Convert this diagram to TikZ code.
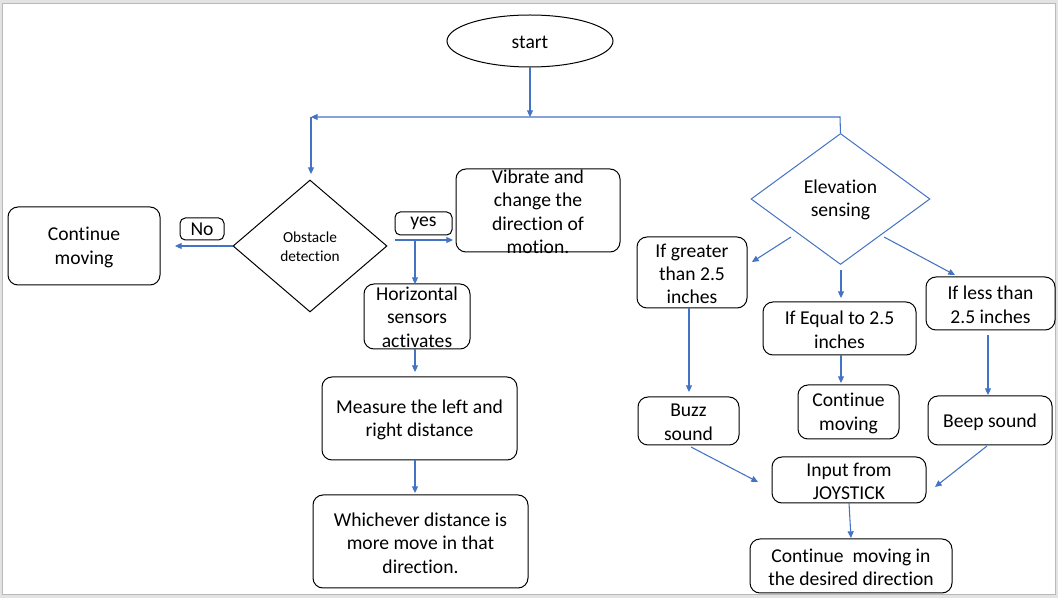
\documentclass[tikz,border=0pt]{standalone}
\usepackage{fontspec}
\setmainfont[Ligatures=NoCommon]{Carlito}
\usetikzlibrary{fit,arrows.meta,shapes.geometric}
\definecolor{arrowblue}{HTML}{4472C4}
\begin{document}
\begin{tikzpicture}[x=0.75pt,y=-0.75pt,
 box/.style={draw=black, rounded corners=7.5pt, line width=0.75pt, inner sep=0pt},
 tbox/.style={draw=black, rounded corners=4pt, line width=0.75pt, inner sep=0pt},
 txt/.style={align=center, font=\fontsize{14.7}{17.6}\selectfont, inner sep=0pt},
 stxt/.style={align=center, font=\fontsize{11.5}{14.3}\selectfont, inner sep=0pt},
 arr/.style={draw=arrowblue, line width=0.8pt, -{Triangle[length=5pt,width=4.5pt]}},
 ln/.style={draw=arrowblue, line width=0.8pt}]
% canvas
\fill[gray!22] (0,0) rectangle (1058,598);
\useasboundingbox (0,0) rectangle (1058,598);
\filldraw[fill=white, draw=gray!55, line width=0.6pt] (2.5,3.5) rectangle (1055.5,594.5);

% start
\node[ellipse, draw=black, line width=0.75pt, minimum width=124.5pt, minimum height=39pt, inner sep=0pt] (start) at (530,41) {};
\node[txt] at (530,42) {start};

% obstacle diamond
\node[diamond, draw=black, line width=0.75pt, minimum width=115.5pt, minimum height=99pt, inner sep=0pt] (od) at (310,246) {};
\node[stxt] at (310,247) {Obstacle\\detection};

% elevation diamond
\node[diamond, draw=arrowblue, line width=0.75pt, minimum width=134.25pt, minimum height=98.25pt, inner sep=0pt] (ed) at (840.5,199) {};
\node[txt] at (840.5,200) {Elevation\\sensing};

% left boxes
\node[box, fit={(8,207) (160,285)}] (cm1) {};
\node[txt] at ([yshift=-1pt]cm1.center) {Continue\\moving};
\node[tbox, fit={(180,218) (224,240)}] (no) {};
\node[txt] at (no) {No};
\node[tbox, fit={(395,212) (452,235)}] (yes) {};
\node[txt] at (yes) {yes};
\node[box, fit={(456,169) (620,252)}] (vib) {};
\node[txt] at (538,212) {Vibrate and\\change the\\direction of\\motion.};
\node[box, fit={(364,284) (470,349)}] (hs) {};
\node[txt] at (417,317) {Horizontal\\sensors\\activates};
\node[box, fit={(322,377) (517,460)}] (mlr) {};
\node[txt] at ([yshift=-1pt]mlr.center) {Measure the left and\\right distance};
\node[box, fit={(313,495) (528,588)}] (wd) {};
\node[txt] at ([yshift=-1pt]wd.center) {Whichever distance is\\more move in that\\direction.};

% right boxes
\node[box, fit={(637,237) (747,308)}] (gt) {};
\node[txt] at ([yshift=-1pt]gt.center) {If greater\\than 2.5\\inches};
\node[box, fit={(763,302) (916,355)}] (eq) {};
\node[txt] at ([yshift=-1pt]eq.center) {If Equal to 2.5\\inches};
\node[box, fit={(926,277) (1055,330)}] (lt) {};
\node[txt] at ([yshift=-1pt]lt.center) {If less than\\2.5 inches};
\node[box, fit={(638,397) (739,445)}] (buzz) {};
\node[txt] at ([yshift=-1pt]buzz.center) {Buzz\\sound};
\node[box, fit={(798,385) (899,439)}] (cm2) {};
\node[txt] at ([yshift=-1pt]cm2.center) {Continue\\moving};
\node[box, fit={(928,396) (1052,445)}] (beep) {};
\node[txt] at ([yshift=-1pt]beep.center) {Beep sound};
\node[box, fit={(772,457) (926,503)}] (joy) {};
\node[txt] at ([yshift=-1pt]joy.center) {Input from\\JOYSTICK};
\node[box, fit={(750,539) (952,593)}] (cmd) {};
\node[txt] at ([yshift=-1pt]cmd.center) {Continue\ \ moving in\\the desired direction};

% connector coordinates
\coordinate (j1) at (530,117);
\coordinate (jl) at (311,117);
\coordinate (jr) at (840,117);
\coordinate (odtop) at (311,174);
\coordinate (noend) at (175,246);
\coordinate (ys) at (395,240);
\coordinate (ye) at (453,240);
\coordinate (yv) at (415,240);
\coordinate (hstop) at (415,284);
\coordinate (hsbot) at (415,349);
\coordinate (mlrtop) at (415,372);
\coordinate (mlrbot) at (415,460);
\coordinate (wdtop) at (415,493);
\coordinate (ed1) at (791,237);
\coordinate (gt1) at (752,262);
\coordinate (ed2) at (884,237);
\coordinate (lt1) at (955,275);
\coordinate (ed3) at (841,270);
\coordinate (eq1) at (841,298);
\coordinate (gtb) at (689,308);
\coordinate (buzzt) at (689,392);
\coordinate (eqb) at (841,355);
\coordinate (cm2t) at (841,383);
\coordinate (ltb) at (988,335);
\coordinate (beept) at (988,395);
\coordinate (buzzb) at (691,447);
\coordinate (joyl) at (758,482);
\coordinate (beepb) at (987,446);
\coordinate (joyr) at (935,487);
\coordinate (joyb) at (849,503);
\coordinate (cmdt) at (851,538);

% connectors
\draw[arr] (start.south) -- (j1);
\draw[arr] (ed.north) -- (jr) -- (jl);
\draw[arr] (jl) -- (odtop);
\draw[arr] (od.west) -- (noend);
\draw[arr] (ys) -- (ye);
\draw[arr] (yv) -- (hstop);
\draw[arr] (hsbot) -- (mlrtop);
\draw[arr] (mlrbot) -- (wdtop);
\draw[arr] (ed1) -- (gt1);
\draw[arr] (ed2) -- (lt1);
\draw[arr] (ed3) -- (eq1);
\draw[arr] (gtb) -- (buzzt);
\draw[arr] (eqb) -- (cm2t);
\draw[arr] (ltb) -- (beept);
\draw[arr] (buzzb) -- (joyl);
\draw[arr] (beepb) -- (joyr);
\draw[arr] (joyb) -- (cmdt);
\end{tikzpicture}
\end{document}
